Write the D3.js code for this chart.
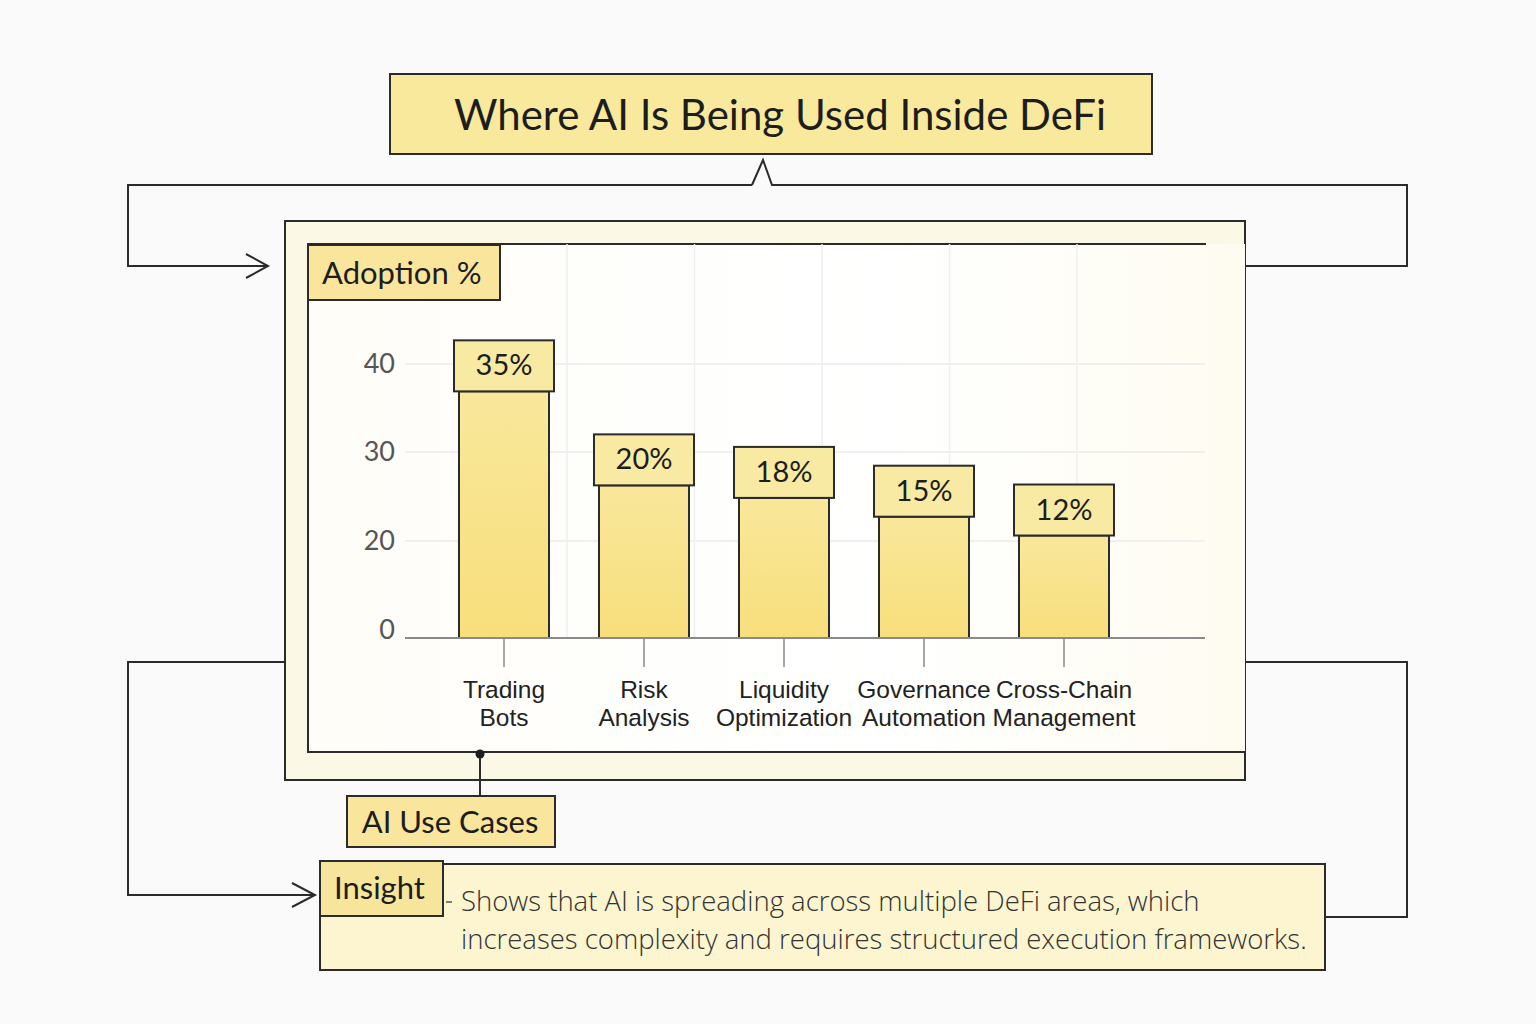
<!DOCTYPE html>
<html>
<head>
<meta charset="utf-8">
<script src="https://cdn.jsdelivr.net/npm/d3@7"></script>
<style>
  html, body { margin: 0; padding: 0; background: #fbfafa; }
  svg { display: block; }
</style>
</head>
<body>
<div id="chart"></div>
<script>
// data
var categories = ["Trading Bots", "Risk Analysis", "Liquidity Optimization", "Governance Automation", "Cross-Chain Management"];
var categoryLines = [["Trading", "Bots"], ["Risk", "Analysis"], ["Liquidity", "Optimization"], ["Governance", "Automation"], ["Cross-Chain", "Management"]];
var adoption = [35, 20, 18, 15, 12];
var tickLabels = [0, 20, 30, 40];
var titleText = "Where AI Is Being Used Inside DeFi";
var axisTitle = "Adoption %";
var xTitle = "AI Use Cases";
var insightLines = ["Shows that AI is spreading across multiple DeFi areas, which",
                    "increases complexity and requires structured execution frameworks."];

var W = 1536, H = 1024;
var ink = "#2b2b2b";
var headFont = "Lato, 'Noto Sans', sans-serif";
var bodyFont = "'Liberation Sans', Arial, sans-serif";

var svg = d3.select("#chart").append("svg")
  .attr("width", W)
  .attr("height", H)
  .attr("viewBox", "0 0 " + W + " " + H);

var defs = svg.append("defs");
var g1 = defs.append("linearGradient").attr("id", "barFill").attr("x1", 0).attr("y1", 0).attr("x2", 0).attr("y2", 1);
g1.append("stop").attr("offset", "0%").attr("stop-color", "#f9e79a");
g1.append("stop").attr("offset", "100%").attr("stop-color", "#f8df7c");
var g2 = defs.append("linearGradient").attr("id", "panelFill").attr("x1", 0).attr("y1", 0).attr("x2", 1).attr("y2", 0);
g2.append("stop").attr("offset", "0%").attr("stop-color", "#fefdf8");
g2.append("stop").attr("offset", "60%").attr("stop-color", "#ffffff");
g2.append("stop").attr("offset", "100%").attr("stop-color", "#fefcf1");

// connectors
var conn = svg.append("g").attr("fill", "none").attr("stroke", ink).attr("stroke-width", 2);
conn.append("path").attr("d", "M752,185 L128,185 L128,266 L268,266");
conn.append("path").attr("d", "M246,254 L268,266 L246,278");
conn.append("path").attr("d", "M752,185 L763,160 L772,185 L1407,185 L1407,266 L1245,266");
conn.append("path").attr("d", "M285,662 L128,662 L128,895 L315,895");
conn.append("path").attr("d", "M292,883 L315,895 L292,907");
conn.append("path").attr("d", "M1245,662 L1407,662 L1407,917 L1325,917");

// title
svg.append("rect").attr("x", 390).attr("y", 74).attr("width", 762).attr("height", 80)
  .attr("fill", "#f9e99c").attr("stroke", ink).attr("stroke-width", 2);
svg.append("text").attr("x", 780).attr("y", 130).attr("text-anchor", "middle")
  .attr("font-family", headFont).attr("font-size", 42).attr("fill", "#1d1d1d")
  .text(titleText);

// outer chart frame
svg.append("rect").attr("x", 285).attr("y", 221).attr("width", 960).attr("height", 559)
  .attr("fill", "#fcf8e6").attr("stroke", ink).attr("stroke-width", 2);
svg.append("rect").attr("x", 308).attr("y", 244).attr("width", 937).attr("height", 508)
  .attr("fill", "url(#panelFill)");
svg.append("path").attr("d", "M1206,244 L308,244 L308,752 L1245,752")
  .attr("fill", "none").attr("stroke", ink).attr("stroke-width", 2);

// scales
var x = d3.scaleBand().domain(categories).range([434, 1134]).paddingInner(0.357).paddingOuter(0.1785);
var y = d3.scaleLinear().domain([-4.35, 40]).range([638, 360]);
var yTick = d3.scaleLinear().domain(tickLabels).range([638, 541, 452, 364]);
var xGrid = d3.scaleLinear().domain([0, 4]).range([567, 1077]);

var plot = svg.append("g");

// grid
plot.selectAll(".hgrid").data(tickLabels.slice(1)).enter().append("line")
  .attr("x1", 405).attr("x2", 1205)
  .attr("y1", function(d) { return yTick(d); }).attr("y2", function(d) { return yTick(d); })
  .attr("stroke", "#ebebeb").attr("stroke-width", 1.5);
plot.selectAll(".vgrid").data(d3.range(5)).enter().append("line")
  .attr("x1", function(d) { return xGrid(d); })
  .attr("x2", function(d) { return xGrid(d); })
  .attr("y1", 244).attr("y2", 638)
  .attr("stroke", "#efefef").attr("stroke-width", 1.5);

// y tick labels
plot.selectAll(".ytick").data(tickLabels).enter().append("text")
  .attr("x", 395)
  .attr("y", function(d) { return d === 0 ? yTick(d) - 8 : yTick(d); })
  .attr("dy", "0.35em")
  .attr("text-anchor", "end")
  .attr("font-family", headFont).attr("font-size", 27).attr("fill", "#555")
  .text(function(d) { return d; });

// bars
var data = categories.map(function(c, i) { return {cat: c, value: adoption[i], lines: categoryLines[i]}; });
plot.selectAll(".bar").data(data).enter().append("rect")
  .attr("x", function(d) { return x(d.cat); })
  .attr("width", x.bandwidth())
  .attr("y", function(d) { return y(d.value); })
  .attr("height", function(d) { return y(-4.35) - y(d.value); })
  .attr("fill", "url(#barFill)").attr("stroke", ink).attr("stroke-width", 2);

// baseline + ticks
plot.append("line").attr("x1", 405).attr("x2", 1205).attr("y1", 638).attr("y2", 638)
  .attr("stroke", "#8a8a8a").attr("stroke-width", 2);
plot.selectAll(".xtick").data(data).enter().append("line")
  .attr("x1", function(d) { return x(d.cat) + x.bandwidth() / 2; })
  .attr("x2", function(d) { return x(d.cat) + x.bandwidth() / 2; })
  .attr("y1", 639).attr("y2", 667)
  .attr("stroke", "#8a8a8a").attr("stroke-width", 1.5);

// value label boxes
var lab = plot.selectAll(".vlab").data(data).enter().append("g")
  .attr("transform", function(d) { return "translate(" + (x(d.cat) + x.bandwidth() / 2) + "," + y(d.value) + ")"; });
lab.append("rect").attr("x", -50).attr("y", -51).attr("width", 100).attr("height", 51)
  .attr("fill", "#f9eaa3").attr("stroke", ink).attr("stroke-width", 2);
lab.append("text").attr("y", -16).attr("text-anchor", "middle")
  .attr("font-family", headFont).attr("font-size", 29).attr("fill", "#1d1d1d")
  .text(function(d) { return d.value + "%"; });

// category labels
var cl = plot.selectAll(".clab").data(data).enter().append("text")
  .attr("text-anchor", "middle")
  .attr("font-family", bodyFont).attr("font-size", 24.5).attr("fill", "#222");
cl.each(function(d) {
  var t = d3.select(this);
  d.lines.forEach(function(s, i) {
    t.append("tspan").attr("x", x(d.cat) + x.bandwidth() / 2).attr("y", 698 + i * 28).text(s);
  });
});

// axis title box
svg.append("rect").attr("x", 308).attr("y", 245).attr("width", 192).attr("height", 55)
  .attr("fill", "#f9e69c").attr("stroke", ink).attr("stroke-width", 2);
svg.append("text").attr("x", 322).attr("y", 284)
  .attr("font-family", headFont).attr("font-size", 31).attr("fill", "#1d1d1d")
  .text(axisTitle);

// x title connector + box
svg.append("line").attr("x1", 480).attr("x2", 480).attr("y1", 754).attr("y2", 796)
  .attr("stroke", ink).attr("stroke-width", 2);
svg.append("circle").attr("cx", 480).attr("cy", 754).attr("r", 4.5).attr("fill", "#1d1d1d");
svg.append("rect").attr("x", 347).attr("y", 796).attr("width", 208).attr("height", 51)
  .attr("fill", "#f9e69c").attr("stroke", ink).attr("stroke-width", 2);
svg.append("text").attr("x", 450).attr("y", 833).attr("text-anchor", "middle")
  .attr("font-family", headFont).attr("font-size", 31).attr("fill", "#1d1d1d")
  .text(xTitle);

// insight
svg.append("rect").attr("x", 320).attr("y", 864).attr("width", 1005).attr("height", 106)
  .attr("fill", "#fcf5cf").attr("stroke", ink).attr("stroke-width", 2);
svg.append("rect").attr("x", 320).attr("y", 861).attr("width", 123).attr("height", 55)
  .attr("fill", "#f8e59c").attr("stroke", ink).attr("stroke-width", 2);
svg.append("text").attr("x", 334).attr("y", 899)
  .attr("font-family", headFont).attr("font-size", 31).attr("fill", "#1d1d1d")
  .text("Insight");
svg.append("line").attr("x1", 446).attr("x2", 452).attr("y1", 902).attr("y2", 902)
  .attr("stroke", "#555").attr("stroke-width", 1.5);
svg.selectAll(".ins").data(insightLines).enter().append("text")
  .attr("x", 461).attr("y", function(d, i) { return 911 + i * 38; })
  .attr("font-family", "'Open Sans', 'Noto Sans', sans-serif").attr("font-size", 27.5)
  .attr("font-weight", 300).attr("fill", "#333")
  .text(function(d) { return d; });
</script>
</body>
</html>
